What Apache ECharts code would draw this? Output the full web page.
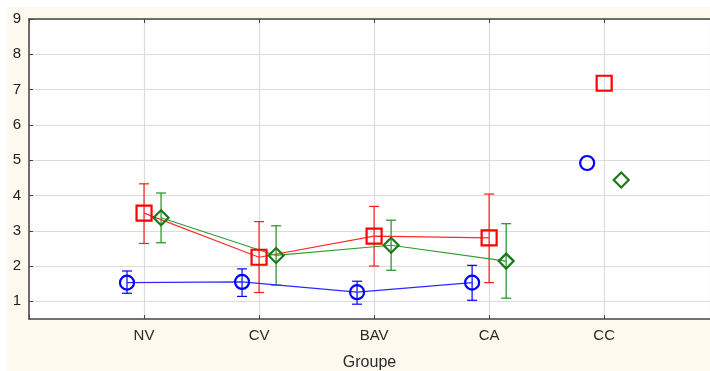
<!DOCTYPE html>
<html><head><meta charset="utf-8">
<script src="https://cdn.jsdelivr.net/npm/echarts@6/dist/echarts.min.js"></script>
<style>html,body{margin:0;padding:0;background:#fff}#c{width:710px;height:371px}</style>
</head><body><div id="c"></div>
<script>
const categories = ['NV','CV','BAV','CA','CC'];
const blueMean = [1.53, 1.55, 1.26, 1.53, 4.92];
const blueLow  = [1.23, 1.14, 0.92, 1.03, null];
const blueHigh = [1.86, 1.92, 1.57, 2.02, null];
const redMean  = [3.50, 2.25, 2.85, 2.80, 7.18];
const redLow   = [2.64, 1.25, 2.00, 1.53, null];
const redHigh  = [4.33, 3.26, 3.69, 4.04, null];
const greenMean = [3.37, 2.30, 2.59, 2.14, 4.44];
const greenLow  = [2.66, 1.46, 1.88, 1.09, null];
const greenHigh = [4.07, 3.14, 3.30, 3.20, null];
const yTicks = [1,2,3,4,5,6,7,8,9];

const OFF = 0.148;
function lineData(mean, off){
  const d = [];
  mean.forEach((v,i)=>{
    if (i === mean.length-1) d.push([null,null]); // break before CC
    d.push([i+1+off, v]);
  });
  return d;
}
function errData(low, high, off){
  const d=[];
  low.forEach((l,i)=>{ if(l!=null) d.push([i+1+off, l, high[i]]); });
  return d;
}
function errSeries(low, high, off, color){
  return {
    type:'custom', xAxisIndex:0, yAxisIndex:0, z:3,
    data: errData(low, high, off),
    renderItem(params, api){
      const x = api.value(0);
      const p1 = api.coord([x, api.value(1)]);
      const p2 = api.coord([x, api.value(2)]);
      const w = 5;
      const st = {stroke: color, lineWidth: 1.2};
      return {type:'group', children:[
        {type:'line', shape:{x1:p1[0],y1:p1[1],x2:p2[0],y2:p2[1]}, style:st},
        {type:'line', shape:{x1:p1[0]-w,y1:p1[1],x2:p1[0]+w,y2:p1[1]}, style:st},
        {type:'line', shape:{x1:p2[0]-w,y1:p2[1],x2:p2[0]+w,y2:p2[1]}, style:st}
      ]};
    }
  };
}
function lineSeries(mean, off, lineColor, markColor, symbol, size){
  return {
    type:'line', z:4, data: lineData(mean, off), connectNulls:false,
    symbol, symbolSize:size, showAllSymbol:true,
    lineStyle:{color:lineColor, width:1.2},
    itemStyle:{color:'rgba(0,0,0,0)', borderColor:markColor, borderWidth:2.2},
    emphasis:{disabled:true}, animation:false
  };
}
const chart = echarts.init(document.getElementById('c'));
const axisCol = '#444';
chart.setOption({
  animation:false,
  backgroundColor:'#fff',
  graphic:[{type:'rect', z:-10, shape:{x:7,y:7,width:710,height:371}, style:{fill:'#fef9ee'}},
           {type:'rect', z:-9, shape:{x:29,y:19,width:690,height:300}, style:{fill:'#fff'}}],
  grid:{left:29, top:19, right:0, bottom:52, containLabel:false, outerBoundsMode:'none'},
  xAxis:[{
    type:'value', min:0, max:5.92, interval:1, position:'bottom',
    axisLine:{show:true, lineStyle:{color:axisCol, width:1.5}},
    axisTick:{show:true, inside:true, length:4, lineStyle:{color:axisCol}},
    splitLine:{show:true, lineStyle:{color:'#dcdcdc', width:1.2}},
    axisLabel:{color:'#2a2a2a', fontSize:15, fontFamily:'Liberation Sans', margin:9, showMaxLabel:false,
      formatter:v=> (v>=1 && v<=categories.length) ? categories[v-1] : ''},
    name:'Groupe', nameLocation:'middle', nameGap:36,
    nameTextStyle:{color:'#2a2a2a', fontSize:16, fontFamily:'Liberation Sans'}
  },{
    type:'value', min:0, max:5.92, interval:1, position:'top',
    axisLine:{show:true, lineStyle:{color:axisCol, width:1.5}},
    axisTick:{show:true, inside:true, length:4, lineStyle:{color:axisCol}},
    splitLine:{show:false}, axisLabel:{show:false}
  }],
  yAxis:{
    type:'value', min:0.5, max:9,
    axisLine:{show:true, lineStyle:{color:axisCol, width:1.5}},
    axisTick:{show:true, inside:true, length:4, customValues:yTicks, lineStyle:{color:axisCol}},
    splitLine:{show:true, lineStyle:{color:'#dcdcdc', width:1.2}},
    axisLabel:{color:'#222', fontSize:15, fontFamily:'Liberation Sans', margin:8, customValues:yTicks}
  },
  series:[
    errSeries(blueLow, blueHigh, -OFF, '#0000ff'),
    errSeries(redLow, redHigh, 0, '#ff1a1a'),
    errSeries(greenLow, greenHigh, OFF, '#1f8f1f'),
    lineSeries(blueMean, -OFF, '#2a2aff', '#0000ff', 'circle', 14),
    lineSeries(redMean, 0, '#ff2a2a', '#ff0000', 'rect', 15),
    lineSeries(greenMean, OFF, '#2e9e2e', '#1a7a1a', 'diamond', 15)
  ]
});
</script></body></html>
